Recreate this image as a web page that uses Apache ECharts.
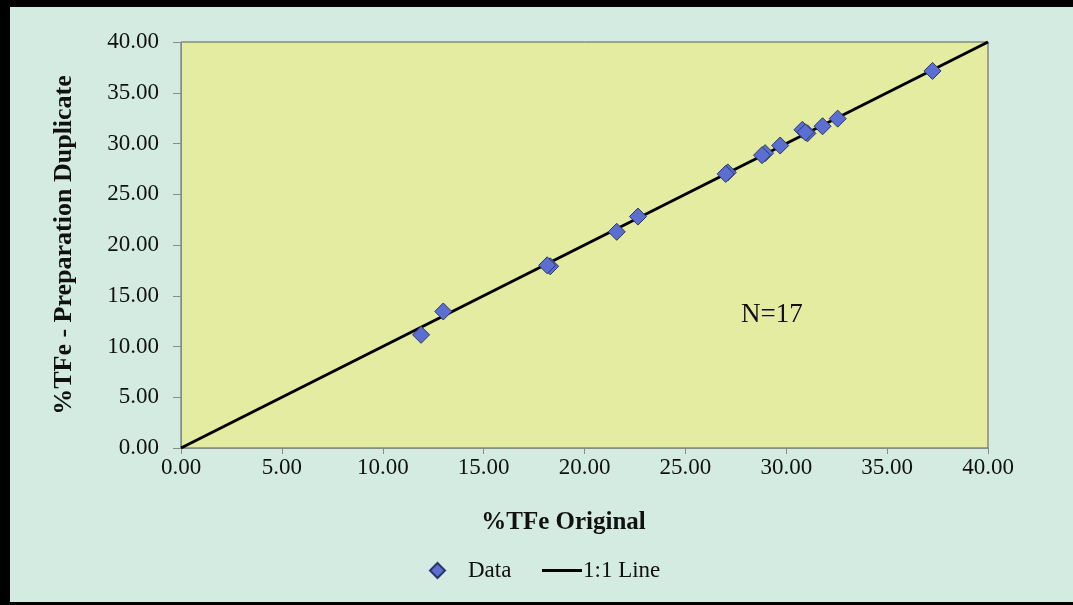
<!DOCTYPE html>
<html><head><meta charset="utf-8">
<script src="https://cdn.jsdelivr.net/npm/echarts@6/dist/echarts.min.js"></script>
<style>html,body{margin:0;padding:0;background:#d3ebe1}#c{width:1073px;height:605px}</style>
</head><body><div id="c"></div>
<script>
var origX = [37.25, 32.55, 31.8, 30.8, 31.05, 29.7, 28.95, 28.8, 27.1, 27.0, 22.65, 21.6, 18.3, 18.15, 13.0, 11.9, 30.95];
var dupY  = [37.15, 32.45, 31.7, 31.35, 31.0, 29.8, 29.05, 28.85, 27.15, 27.0, 22.8, 21.3, 17.9, 18.0, 13.45, 11.15, 31.1];
var lineX = [0, 40];
var lineY = [0, 40];

var chart = echarts.init(document.getElementById('c'));
var serif = '"Liberation Serif", "Times New Roman", serif';
chart.setOption({
  animation: false,
  backgroundColor: '#d3ebe1',
  textStyle: {fontFamily: serif},
  grid: {left: 181, right: 85, top: 42, bottom: 157, show: true, backgroundColor: '#e3eca0', borderColor: '#5a5a5a', borderWidth: 1},
  xAxis: {
    type: 'value', min: 0, max: 40, interval: 5,
    name: '%TFe Original', nameLocation: 'middle', nameGap: 62,
    nameTextStyle: {fontFamily: serif, fontWeight: 'bold', fontSize: 25, color: '#111', padding: [0, 42, 0, 0]},
    axisLine: {show: true, lineStyle: {color: '#8a8a8a'}},
    axisTick: {show: true, length: 6, lineStyle: {color: '#8a8a8a'}},
    splitLine: {show: false},
    axisLabel: {formatter: function(v){return v.toFixed(2);}, fontFamily: serif, fontSize: 23, color: '#111', margin: 8}
  },
  yAxis: {
    type: 'value', min: 0, max: 40, interval: 5,
    name: '%TFe - Preparation Duplicate', nameLocation: 'middle', nameGap: 104,
    nameTextStyle: {fontFamily: serif, fontWeight: 'bold', fontSize: 26, color: '#111'},
    axisLine: {show: true, lineStyle: {color: '#8a8a8a'}},
    axisTick: {show: true, length: 8, lineStyle: {color: '#8a8a8a'}},
    splitLine: {show: false},
    axisLabel: {formatter: function(v){return v.toFixed(2);}, fontFamily: serif, fontSize: 23, color: '#111', margin: 22}
  },
  legend: [
    {
      left: 424, top: 554, itemWidth: 15, itemHeight: 15,
      textStyle: {fontFamily: serif, fontSize: 23, color: '#111', padding: [0, 0, 0, 18]},
      data: [{name: 'Data', icon: 'diamond'}]
    },
    {
      left: 537, top: 554, itemWidth: 40, itemHeight: 3,
      textStyle: {fontFamily: serif, fontSize: 23, color: '#111', padding: [0, 0, 0, -4]},
      data: [{name: '1:1 Line', icon: 'rect', itemStyle: {color: '#000'}}]
    }
  ],
  series: [
    {
      name: '1:1 Line', type: 'line', data: lineX.map(function(x,i){return [x, lineY[i]];}),
      symbol: 'none', lineStyle: {color: '#000', width: 3}, itemStyle: {color: '#000'}, z: 2
    },
    {
      name: 'Data', type: 'scatter', data: origX.map(function(x,i){return [x, dupY[i]];}),
      symbol: 'diamond', symbolSize: 17,
      itemStyle: {color: '#5b6fd2', borderColor: '#2c3566', borderWidth: 1, opacity: 1}, z: 3
    }
  ],
  graphic: [
    {type: 'text', left: 741, top: 301, style: {text: 'N=17', font: '27px ' + serif, fill: '#111'}},
    {type: 'rect', shape: {x: 0, y: 0, width: 1073, height: 7}, style: {fill: '#000'}},
    {type: 'rect', shape: {x: 0, y: 0, width: 10, height: 605}, style: {fill: '#000'}},
    {type: 'rect', shape: {x: 0, y: 602, width: 1073, height: 3}, style: {fill: '#000'}}
  ]
});
</script>
</body></html>
